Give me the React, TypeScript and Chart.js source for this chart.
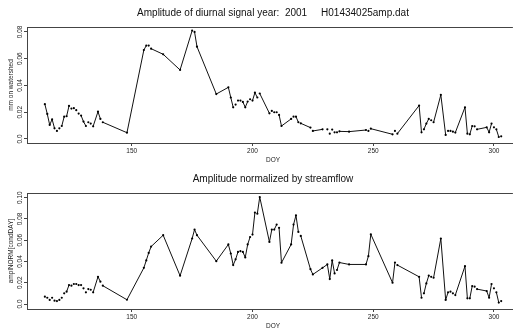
import React, { useEffect, useRef } from "react";
import { Chart, registerables } from "chart.js";
Chart.register(...registerables);

// ---- data ----
const DAYS = [
  114, 115, 116, 117, 118, 119, 120, 121, 122, 123, 124, 125, 126, 127, 128, 129, 130, 131, 132, 133, 134,
  136, 137, 138,
  148,
  155, 156, 157, 158,
  163,
  170,
  175, 176, 177,
  185,
  190, 191, 192, 193, 194, 195, 196, 197, 198, 199, 200, 201, 202, 203,
  207, 208, 209, 210, 211, 212,
  216, 217, 218, 219, 220,
  224, 225,
  229,
  231, 232, 233, 234, 235, 236,
  240,
  247, 248, 249,
  258, 259, 260,
  269, 270, 271, 272, 273, 274, 275,
  278,
  280, 281, 282, 283, 284,
  288, 289, 290, 291, 292, 293,
  297, 298, 299, 300, 301, 302, 303,
];

const AMP = [
  0.026, 0.0187, 0.0105, 0.0147, 0.008, 0.006, 0.008, 0.0097, 0.0167, 0.017, 0.0247, 0.0227, 0.023, 0.0215, 0.019, 0.0175, 0.013, 0.0097, 0.0125, 0.0115, 0.0095,
  0.0204, 0.015, 0.0125,
  0.0047,
  0.0665, 0.0698, 0.0698, 0.0675,
  0.0633,
  0.0516,
  0.081, 0.08, 0.069,
  0.0336,
  0.0386, 0.031, 0.0237, 0.0257, 0.0287, 0.0287, 0.0277, 0.0237, 0.028, 0.0297, 0.0287, 0.0346, 0.031, 0.034,
  0.0192, 0.021, 0.02, 0.02, 0.018, 0.0097,
  0.015, 0.0167, 0.0167, 0.0125, 0.0117,
  0.0085, 0.006,
  0.0072,
  0.0072, 0.004, 0.007, 0.005, 0.005, 0.0057,
  0.0055,
  0.0067, 0.006, 0.0077,
  0.0035, 0.006, 0.004,
  0.025, 0.005, 0.0072, 0.0115, 0.015, 0.014, 0.0125,
  0.033,
  0.003, 0.006, 0.006, 0.0055, 0.0048,
  0.0237, 0.004, 0.0035, 0.0097, 0.0095, 0.0072,
  0.0087, 0.005, 0.0115, 0.0087, 0.0072, 0.0015, 0.002,
];

const AMP_NORM = [
  0.0069, 0.0059, 0.0038, 0.0059, 0.0031, 0.0028, 0.0038, 0.0059, 0.01, 0.0116, 0.0178, 0.0172, 0.0188, 0.0188, 0.0178, 0.0178, 0.0147, 0.011, 0.014, 0.0134, 0.011,
  0.0256, 0.021, 0.0172,
  0.004,
  0.034, 0.041, 0.048, 0.054,
  0.0647,
  0.0266,
  0.0616, 0.07, 0.0647,
  0.0403,
  0.056, 0.0475, 0.0366, 0.042, 0.049, 0.0497, 0.049, 0.0438, 0.056, 0.063, 0.0653, 0.086, 0.085, 0.1006,
  0.0584, 0.07, 0.07, 0.0747, 0.0716, 0.0388,
  0.056, 0.0747, 0.0834, 0.0678, 0.064,
  0.0328, 0.0278,
  0.034,
  0.0372, 0.0234, 0.041, 0.0288, 0.032, 0.039,
  0.0372,
  0.0372, 0.045, 0.0656,
  0.02, 0.039, 0.0366,
  0.0256, 0.0059, 0.01, 0.0194, 0.0266, 0.0256, 0.0247,
  0.0616,
  0.0038, 0.011, 0.0116, 0.01, 0.0084,
  0.0356, 0.0053, 0.0053, 0.0169, 0.0163, 0.014,
  0.0122, 0.0059, 0.0188, 0.0147, 0.011, 0.0013, 0.0028,
];

const X_TICKS = [150, 200, 250, 300];
const Y_TICKS_TOP = [0, 0.02, 0.04, 0.06, 0.08];
const Y_TICK_LABELS_TOP = ["0.0", "0.02", "0.04", "0.06", "0.08"];
const Y_TICKS_BOTTOM = [0, 0.02, 0.04, 0.06, 0.08, 0.1];
const Y_TICK_LABELS_BOTTOM = ["0.0", "0.02", "0.04", "0.06", "0.08", "0.10"];

const TITLE_TOP = "Amplitude of diurnal signal year:  2001     H01434025amp.dat";
const TITLE_BOTTOM = "Amplitude normalized by streamflow";
const X_LABEL = "DOY";
const Y_LABEL_TOP = "mm on watershed";
const Y_LABEL_BOTTOM = "amplNORM[condDAY]";

// ---- style / layout ----
const FONT = '"Liberation Sans", Arial, Helvetica, sans-serif';
const INK = "#111";
const AXIS = "#444";

type PanelProps = {
  values: number[];
  yMin: number;
  yMax: number;
  yTicks: number[];
  yTickLabels: string[];
  title: string;
  yLabel: string;
  height: number;
};

function Panel(props: PanelProps) {
  const ref = useRef<HTMLCanvasElement | null>(null);
  useEffect(() => {
    const canvas = ref.current;
    if (!canvas) return;
    const frame = {
      id: "rframe",
      afterDraw(chart: any) {
        const { ctx, chartArea: a } = chart;
        ctx.save();
        ctx.strokeStyle = AXIS;
        ctx.lineWidth = 1;
        ctx.beginPath();
        ctx.moveTo(a.left, Math.round(a.top) + 0.5);
        ctx.lineTo(a.right, Math.round(a.top) + 0.5);
        ctx.stroke();

        const cx = 273;
        ctx.fillStyle = INK;
        ctx.textAlign = "center";
        ctx.textBaseline = "middle";
        ctx.font = `10px ${FONT}`;
        ctx.fillText(props.title, cx, 13);

        ctx.fillStyle = "#222";
        ctx.font = `6.5px ${FONT}`;
        ctx.fillText(X_LABEL, cx, a.bottom + 17);

        const ys = chart.scales.y;
        ys.ticks.forEach((t: any, i: number) => {
          const y = ys.getPixelForValue(t.value);
          ctx.save();
          ctx.translate(20, y);
          ctx.rotate(-Math.PI / 2);
          ctx.fillText(props.yTickLabels[i], 0, 0);
          ctx.restore();
        });

        ctx.save();
        ctx.translate(11, (a.top + a.bottom) / 2);
        ctx.rotate(-Math.PI / 2);
        ctx.fillText(props.yLabel, 0, 0);
        ctx.restore();
        ctx.restore();
      },
    };

    const chart = new Chart(canvas, {
      type: "line",
      data: {
        datasets: [
          {
            data: DAYS.map((d, i) => ({ x: d, y: props.values[i] })),
            borderColor: INK,
            borderWidth: 1,
            pointRadius: 1.1,
            pointHoverRadius: 1.1,
            pointBackgroundColor: "#000",
            pointBorderWidth: 0,
            tension: 0,
            segment: {
              borderColor: (c: any) =>
                Math.hypot(c.p1.x - c.p0.x, c.p1.y - c.p0.y) < 5 ? "rgba(0,0,0,0)" : INK,
            },
          },
        ],
      },
      options: {
        responsive: false,
        animation: false,
        devicePixelRatio: 1,
        events: [],
        layout: { padding: { top: 27, left: 0, right: 0, bottom: 0 } },
        plugins: { legend: { display: false }, tooltip: { enabled: false }, title: { display: false } },
        scales: {
          x: {
            type: "linear",
            min: 106.6,
            max: 307.85,
            afterFit: (s: any) => {
              s.height = props.height - 143;
            },
            afterBuildTicks: (s: any) => {
              s.ticks = X_TICKS.map((v) => ({ value: v }));
            },
            ticks: {
              font: { size: 6.5, family: FONT },
              color: "#222",
              padding: 1,
              maxRotation: 0,
              autoSkip: false,
              callback: (v: any) => String(v),
            },
            grid: { drawOnChartArea: false, drawTicks: true, tickLength: 3, color: AXIS },
            border: { display: true, color: AXIS, width: 1 },
          },
          y: {
            type: "linear",
            min: props.yMin,
            max: props.yMax,
            afterFit: (s: any) => {
              s.width = 27;
            },
            afterBuildTicks: (s: any) => {
              s.ticks = props.yTicks.map((v) => ({ value: v }));
            },
            ticks: { display: false },
            grid: { drawOnChartArea: false, drawTicks: true, tickLength: 3, color: AXIS },
            border: { display: true, color: AXIS, width: 1 },
          },
        },
      },
      plugins: [frame],
    } as any);
    return () => chart.destroy();
  }, []);
  return <canvas ref={ref} width={514} height={props.height} style={{ display: "block" }} />;
}

export default function App() {
  return (
    <div style={{ position: "absolute", left: 0, top: 0, width: 514, height: 331, background: "#fff" }}>
      <Panel
        values={AMP}
        yMin={-0.003}
        yMax={0.0837}
        yTicks={Y_TICKS_TOP}
        yTickLabels={Y_TICK_LABELS_TOP}
        title={TITLE_TOP}
        yLabel={Y_LABEL_TOP}
        height={166}
      />
      <Panel
        values={AMP_NORM}
        yMin={-0.0047}
        yMax={0.1044}
        yTicks={Y_TICKS_BOTTOM}
        yTickLabels={Y_TICK_LABELS_BOTTOM}
        title={TITLE_BOTTOM}
        yLabel={Y_LABEL_BOTTOM}
        height={165}
      />
    </div>
  );
}
